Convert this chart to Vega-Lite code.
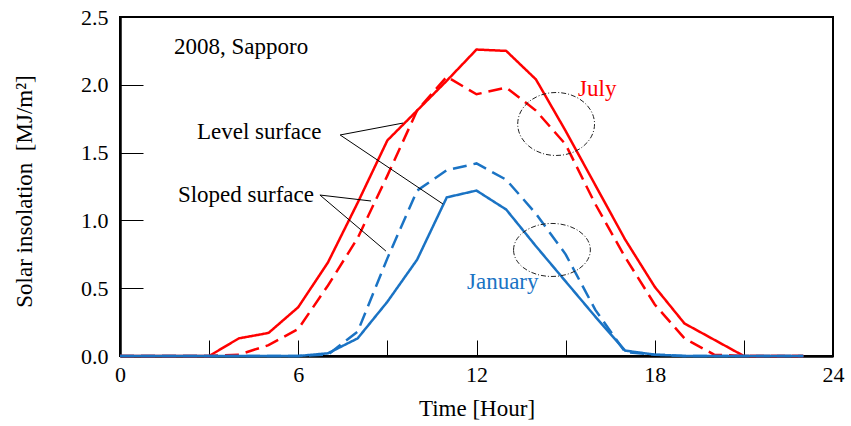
{
  "$schema": "https://vega.github.io/schema/vega-lite/v6.json",
  "width": 713,
  "height": 339,
  "autosize": {"type": "none"},
  "padding": {"left": 120, "top": 17, "right": 18, "bottom": 70},
  "background": "white",
  "config": {
    "view": {"stroke": "black", "strokeWidth": 2},
    "font": "Liberation Serif",
    "axis": {
      "grid": false,
      "domainColor": "black",
      "domainWidth": 2.5,
      "tickColor": "black",
      "tickWidth": 1,
      "labelColor": "black",
      "labelFont": "Liberation Serif",
      "labelFontSize": 22,
      "titleFont": "Liberation Serif",
      "titleFontSize": 23,
      "titleFontWeight": "normal",
      "titleColor": "black",
      "labelFlush": false,
      "labelOverlap": false,
      "zindex": 1
    }
  },
  "datasets": {
    "series": [
      {"hour": 0, "value": 0, "month": "July", "surface": "Level"},
      {"hour": 1, "value": 0, "month": "July", "surface": "Level"},
      {"hour": 2, "value": 0, "month": "July", "surface": "Level"},
      {"hour": 3, "value": 0, "month": "July", "surface": "Level"},
      {"hour": 4, "value": 0.13, "month": "July", "surface": "Level"},
      {"hour": 5, "value": 0.17, "month": "July", "surface": "Level"},
      {"hour": 6, "value": 0.36, "month": "July", "surface": "Level"},
      {"hour": 7, "value": 0.69, "month": "July", "surface": "Level"},
      {"hour": 8, "value": 1.13, "month": "July", "surface": "Level"},
      {"hour": 9, "value": 1.59, "month": "July", "surface": "Level"},
      {"hour": 10, "value": 1.81, "month": "July", "surface": "Level"},
      {"hour": 11, "value": 2.03, "month": "July", "surface": "Level"},
      {"hour": 12, "value": 2.26, "month": "July", "surface": "Level"},
      {"hour": 13, "value": 2.25, "month": "July", "surface": "Level"},
      {"hour": 14, "value": 2.04, "month": "July", "surface": "Level"},
      {"hour": 15, "value": 1.66, "month": "July", "surface": "Level"},
      {"hour": 16, "value": 1.26, "month": "July", "surface": "Level"},
      {"hour": 17, "value": 0.86, "month": "July", "surface": "Level"},
      {"hour": 18, "value": 0.51, "month": "July", "surface": "Level"},
      {"hour": 19, "value": 0.24, "month": "July", "surface": "Level"},
      {"hour": 20, "value": 0.12, "month": "July", "surface": "Level"},
      {"hour": 21, "value": 0, "month": "July", "surface": "Level"},
      {"hour": 22, "value": 0, "month": "July", "surface": "Level"},
      {"hour": 23, "value": 0, "month": "July", "surface": "Level"},
      {"hour": 0, "value": 0, "month": "July", "surface": "Sloped"},
      {"hour": 1, "value": 0, "month": "July", "surface": "Sloped"},
      {"hour": 2, "value": 0, "month": "July", "surface": "Sloped"},
      {"hour": 3, "value": 0, "month": "July", "surface": "Sloped"},
      {"hour": 4, "value": 0.01, "month": "July", "surface": "Sloped"},
      {"hour": 5, "value": 0.08, "month": "July", "surface": "Sloped"},
      {"hour": 6, "value": 0.2, "month": "July", "surface": "Sloped"},
      {"hour": 7, "value": 0.52, "month": "July", "surface": "Sloped"},
      {"hour": 8, "value": 0.87, "month": "July", "surface": "Sloped"},
      {"hour": 9, "value": 1.33, "month": "July", "surface": "Sloped"},
      {"hour": 10, "value": 1.81, "month": "July", "surface": "Sloped"},
      {"hour": 11, "value": 2.06, "month": "July", "surface": "Sloped"},
      {"hour": 12, "value": 1.93, "month": "July", "surface": "Sloped"},
      {"hour": 13, "value": 1.98, "month": "July", "surface": "Sloped"},
      {"hour": 14, "value": 1.81, "month": "July", "surface": "Sloped"},
      {"hour": 15, "value": 1.56, "month": "July", "surface": "Sloped"},
      {"hour": 16, "value": 1.12, "month": "July", "surface": "Sloped"},
      {"hour": 17, "value": 0.73, "month": "July", "surface": "Sloped"},
      {"hour": 18, "value": 0.38, "month": "July", "surface": "Sloped"},
      {"hour": 19, "value": 0.13, "month": "July", "surface": "Sloped"},
      {"hour": 20, "value": 0.01, "month": "July", "surface": "Sloped"},
      {"hour": 21, "value": 0, "month": "July", "surface": "Sloped"},
      {"hour": 22, "value": 0, "month": "July", "surface": "Sloped"},
      {"hour": 23, "value": 0, "month": "July", "surface": "Sloped"},
      {"hour": 0, "value": 0, "month": "January", "surface": "Level"},
      {"hour": 1, "value": 0, "month": "January", "surface": "Level"},
      {"hour": 2, "value": 0, "month": "January", "surface": "Level"},
      {"hour": 3, "value": 0, "month": "January", "surface": "Level"},
      {"hour": 4, "value": 0, "month": "January", "surface": "Level"},
      {"hour": 5, "value": 0, "month": "January", "surface": "Level"},
      {"hour": 6, "value": 0, "month": "January", "surface": "Level"},
      {"hour": 7, "value": 0.02, "month": "January", "surface": "Level"},
      {"hour": 8, "value": 0.13, "month": "January", "surface": "Level"},
      {"hour": 9, "value": 0.4, "month": "January", "surface": "Level"},
      {"hour": 10, "value": 0.71, "month": "January", "surface": "Level"},
      {"hour": 11, "value": 1.17, "month": "January", "surface": "Level"},
      {"hour": 12, "value": 1.22, "month": "January", "surface": "Level"},
      {"hour": 13, "value": 1.08, "month": "January", "surface": "Level"},
      {"hour": 14, "value": 0.81, "month": "January", "surface": "Level"},
      {"hour": 15, "value": 0.55, "month": "January", "surface": "Level"},
      {"hour": 16, "value": 0.29, "month": "January", "surface": "Level"},
      {"hour": 17, "value": 0.04, "month": "January", "surface": "Level"},
      {"hour": 18, "value": 0.01, "month": "January", "surface": "Level"},
      {"hour": 19, "value": 0, "month": "January", "surface": "Level"},
      {"hour": 20, "value": 0, "month": "January", "surface": "Level"},
      {"hour": 21, "value": 0, "month": "January", "surface": "Level"},
      {"hour": 22, "value": 0, "month": "January", "surface": "Level"},
      {"hour": 23, "value": 0, "month": "January", "surface": "Level"},
      {"hour": 0, "value": 0, "month": "January", "surface": "Sloped"},
      {"hour": 1, "value": 0, "month": "January", "surface": "Sloped"},
      {"hour": 2, "value": 0, "month": "January", "surface": "Sloped"},
      {"hour": 3, "value": 0, "month": "January", "surface": "Sloped"},
      {"hour": 4, "value": 0, "month": "January", "surface": "Sloped"},
      {"hour": 5, "value": 0, "month": "January", "surface": "Sloped"},
      {"hour": 6, "value": 0, "month": "January", "surface": "Sloped"},
      {"hour": 7, "value": 0.01, "month": "January", "surface": "Sloped"},
      {"hour": 8, "value": 0.18, "month": "January", "surface": "Sloped"},
      {"hour": 9, "value": 0.72, "month": "January", "surface": "Sloped"},
      {"hour": 10, "value": 1.22, "month": "January", "surface": "Sloped"},
      {"hour": 11, "value": 1.37, "month": "January", "surface": "Sloped"},
      {"hour": 12, "value": 1.42, "month": "January", "surface": "Sloped"},
      {"hour": 13, "value": 1.3, "month": "January", "surface": "Sloped"},
      {"hour": 14, "value": 1.05, "month": "January", "surface": "Sloped"},
      {"hour": 15, "value": 0.75, "month": "January", "surface": "Sloped"},
      {"hour": 16, "value": 0.34, "month": "January", "surface": "Sloped"},
      {"hour": 17, "value": 0.03, "month": "January", "surface": "Sloped"},
      {"hour": 18, "value": 0.01, "month": "January", "surface": "Sloped"},
      {"hour": 19, "value": 0, "month": "January", "surface": "Sloped"},
      {"hour": 20, "value": 0, "month": "January", "surface": "Sloped"},
      {"hour": 21, "value": 0, "month": "January", "surface": "Sloped"},
      {"hour": 22, "value": 0, "month": "January", "surface": "Sloped"},
      {"hour": 23, "value": 0, "month": "January", "surface": "Sloped"}
    ],
    "labels": [
      {"hour": 1.82, "value": 2.227, "text": "2008, Sapporo", "kind": "note"},
      {"hour": 2.59, "value": 1.6, "text": "Level surface", "kind": "note"},
      {"hour": 1.95, "value": 1.136, "text": "Sloped surface", "kind": "note"},
      {"hour": 15.42, "value": 1.917, "text": "July", "kind": "July"},
      {"hour": 11.68, "value": 0.494, "text": "January", "kind": "January"}
    ],
    "leaders": [
      {"hour": 7.41, "value": 1.63, "hour2": 9.53, "value2": 1.718},
      {"hour": 7.41, "value": 1.63, "hour2": 10.87, "value2": 1.121},
      {"hour": 6.73, "value": 1.187, "hour2": 8.45, "value2": 1.143},
      {"hour": 6.73, "value": 1.187, "hour2": 8.95, "value2": 0.774}
    ],
    "ellipses": [
      {"hour": 14.68, "value": 1.711, "month": "July"},
      {"hour": 14.54, "value": 0.782, "month": "January"}
    ]
  },
  "layer": [
    {
      "data": {"name": "series"},
      "mark": {"type": "line", "strokeWidth": 2.5},
      "encoding": {
        "x": {
          "field": "hour",
          "type": "quantitative",
          "scale": {"domain": [0, 24], "nice": false, "zero": false},
          "axis": {
            "title": "Time [Hour]",
            "values": [0, 3, 6, 9, 12, 15, 18, 21, 24],
            "labelExpr": "datum.value % 6 === 0 ? datum.label : ''",
            "tickSize": -16,
            "labelPadding": 24,
            "titleY": 59,
            "titleBaseline": "alphabetic"
          }
        },
        "y": {
          "field": "value",
          "type": "quantitative",
          "scale": {"domain": [0, 2.5], "nice": false},
          "axis": {
            "title": "Solar insolation\u00a0\u00a0[MJ/m²]",
            "values": [0, 0.25, 0.5, 0.75, 1, 1.25, 1.5, 1.75, 2, 2.25, 2.5],
            "labelExpr": "datum.value % 0.5 === 0 ? format(datum.value, '.1f') : ''",
            "tickSize": {"condition": {"test": "datum.value % 0.5 === 0", "value": -23}, "value": -15},
            "labelPadding": 35,
            "titleX": -89,
            "titleY": 174,
            "titleBaseline": "alphabetic"
          }
        },
        "color": {
          "field": "month",
          "type": "nominal",
          "scale": {"domain": ["July", "January", "note"], "range": ["#ff0000", "#1a73c4", "black"]},
          "legend": null
        },
        "strokeDash": {
          "field": "surface",
          "type": "nominal",
          "scale": {"domain": ["Level", "Sloped"], "range": [[1, 0], [14, 7]]},
          "legend": null
        }
      }
    },
    {
      "data": {"name": "leaders"},
      "mark": {"type": "rule", "color": "black", "strokeWidth": 1},
      "encoding": {
        "x": {"field": "hour", "type": "quantitative"},
        "y": {"field": "value", "type": "quantitative"},
        "x2": {"field": "hour2"},
        "y2": {"field": "value2"}
      }
    },
    {
      "data": {"name": "ellipses"},
      "mark": {"type": "point", "filled": false, "stroke": "#222222", "strokeWidth": 1, "strokeDash": [5, 2, 1, 2], "size": 5900, "opacity": 1},
      "encoding": {
        "x": {"field": "hour", "type": "quantitative"},
        "y": {"field": "value", "type": "quantitative"},
        "shape": {
          "field": "month",
          "type": "nominal",
          "scale": {
            "domain": ["July", "January"],
            "range": ["M -1 0 A 1 0.82 0 1 1 1 0 A 1 0.82 0 1 1 -1 0 Z", "M -1 0 A 1 0.69 0 1 1 1 0 A 1 0.69 0 1 1 -1 0 Z"]
          },
          "legend": null
        }
      }
    },
    {
      "data": {"name": "labels"},
      "mark": {"type": "text", "align": "left", "baseline": "alphabetic", "font": "Liberation Serif", "fontSize": 23},
      "encoding": {
        "x": {"field": "hour", "type": "quantitative"},
        "y": {"field": "value", "type": "quantitative"},
        "text": {"field": "text"},
        "color": {"field": "kind", "type": "nominal", "legend": null}
      }
    }
  ]
}
